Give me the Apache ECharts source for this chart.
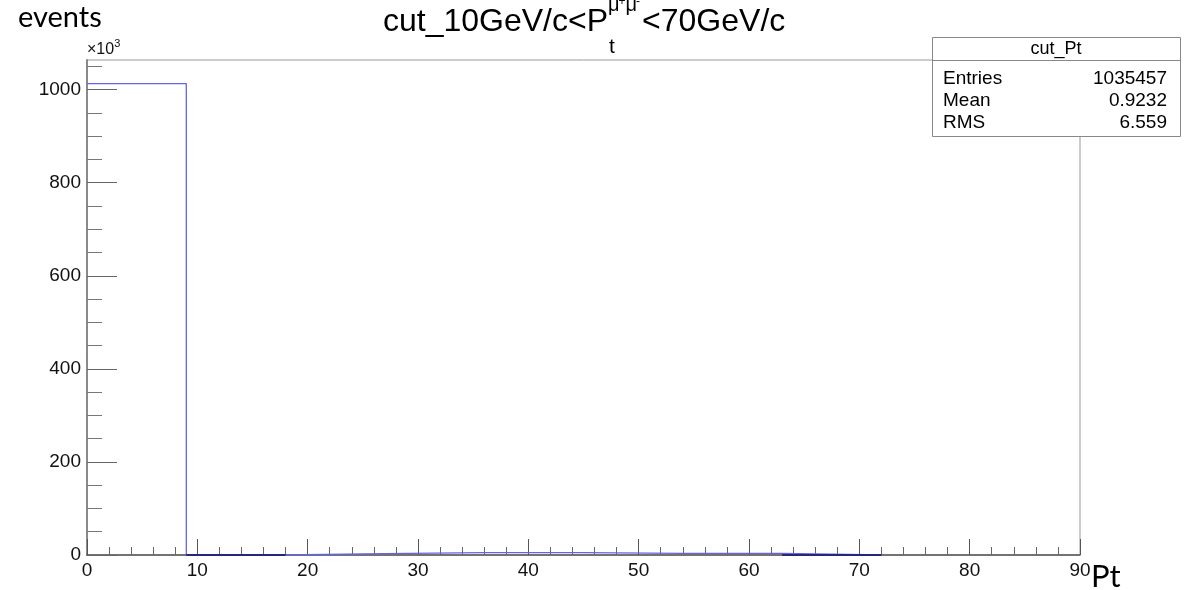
<!DOCTYPE html>
<html><head><meta charset="utf-8">
<script src="https://cdn.jsdelivr.net/npm/echarts@6/dist/echarts.min.js"></script>
<style>html,body{margin:0;padding:0;background:#fff}#c{width:1197px;height:590px}</style>
</head><body><div id="c"></div>
<script>
// ---- data (counts in units of 10^3 events) ----
const binEdges = [0, 9, 18, 27, 36, 45, 54, 63, 72];
const binCounts = [1013, 0, 3.0, 5.0, 5.0, 3.5, 3.5, 0];
const yMax = 1063.6;
const xMin = 0, xMax = 90;
const yMajorTicks = [0, 200, 400, 600, 800, 1000];
const yMinorTicks = [50, 100, 150, 250, 300, 350, 450, 500, 550, 650, 700, 750, 850, 900, 950, 1050];
const xMajorTicks = [0, 10, 20, 30, 40, 50, 60, 70, 80, 90];
const xMinorTicks = [2,4,6,8,12,14,16,18,22,24,26,28,32,34,36,38,42,44,46,48,52,54,56,58,62,64,66,68,72,74,76,78,82,84,86,88];
const statsTitle = 'cut_Pt';
const statsRows = [['Entries', '1035457'], ['Mean', '0.9232'], ['RMS', '6.559']];
const titleMain1 = 'cut_10GeV/c<P';
const titleSub = 't';
const titleSup = ['μ', '+', 'μ', '-'];
const titleMain2 = '<70GeV/c';
const yTitle = 'events';
const xTitle = 'Pt';

// step-line points: each bin's left edge carries the bin content; final edge closes it
const histPoints = binEdges.map((e, i) => [e, i < binCounts.length ? binCounts[i] : 0]);
// empty bins: the histogram outline lies on the axis (drawn darker, as in the original)
const emptyPoints = [];
binCounts.forEach((c, i) => {
  if (c === 0) { emptyPoints.push([binEdges[i], c], [binEdges[i + 1], c], [binEdges[i + 1], '-']); }
});

const FONT = 'Liberation Sans';
const ctx = document.createElement('canvas').getContext('2d');
function tw(t, size) { ctx.font = size + 'px "' + FONT + '"'; return ctx.measureText(t).width; }
function mid(base, size) { return base - 0.35 * size; }

const tX0 = 383, tBase = 33, tSize = 32, supSize = 20, supSmall = 12, subSize = 21;
const w1 = tw(titleMain1, tSize);
const subX = tX0 + w1;
const muW = tw('μ', supSize), plusW = tw('+', supSmall), minusW = tw('-', supSmall);
const supW = 2 * muW + plusW + minusW;
const part2X = subX + supW;

const chart = echarts.init(document.getElementById('c'), null, {renderer: 'canvas'});
const axisTextColor = '#111';

function T(x, y, text, font, extra) {
  return {type: 'text', x: x, y: y, z: 102, style: Object.assign({text: text, font: font, fill: '#000', verticalAlign: 'middle', align: 'left'}, extra || {})};
}
const fS = s => s + 'px "' + FONT + '"';

const graphic = [
  T(18, mid(28, 29), yTitle, '29px Lato'),
  T(tX0, mid(tBase, tSize), titleMain1, fS(tSize)),
  T(subX + 1, mid(55, subSize), titleSub, fS(subSize)),
  T(subX, mid(12, supSize), titleSup[0], fS(supSize)),
  T(subX + muW - 1, mid(6, supSmall), titleSup[1], fS(supSmall)),
  T(subX + muW + plusW - 1, mid(12, supSize), titleSup[2], fS(supSize)),
  T(subX + 2 * muW + plusW - 2, mid(6, supSmall), titleSup[3], fS(supSmall)),
  T(part2X, mid(tBase, tSize), titleMain2, fS(tSize)),
  T(87, mid(55, 16), '×10', fS(16), {fill: '#111'}),
  T(87 + tw('×10', 16), mid(48, 11), '3', fS(11), {fill: '#111'}),
  T(1091, mid(588, 31), xTitle, '31px Lato'),
  // stats box
  {type: 'rect', z: 100, shape: {x: 932.5, y: 37.5, width: 248, height: 99}, style: {fill: '#fff', stroke: '#888', lineWidth: 1}},
  {type: 'line', z: 101, shape: {x1: 932.5, y1: 60.5, x2: 1180.5, y2: 60.5}, style: {stroke: '#888', lineWidth: 1}},
  T(1056, mid(55, 18), statsTitle, fS(18), {align: 'center'})
];
statsRows.forEach((r, i) => {
  const base = [85, 107.5, 129][i];
  graphic.push(T(943, mid(base, 19), r[0], fS(19)));
  graphic.push(T(1167, mid(base, 19), r[1], fS(19), {align: 'right'}));
});

chart.setOption({
  animation: false,
  backgroundColor: '#fff',
  grid: {left: 87, right: 117, top: 60, bottom: 35, show: true, borderColor: '#999', borderWidth: 1, backgroundColor: 'transparent'},
  xAxis: [
    {type: 'value', min: xMin, max: xMax, position: 'bottom',
     axisLine: {show: true, onZero: false, lineStyle: {color: '#555', width: 1.5}},
     axisTick: {show: true, inside: true, length: 16, customValues: xMajorTicks, lineStyle: {color: '#555', width: 1}},
     axisLabel: {show: true, customValues: xMajorTicks, margin: 6, fontFamily: FONT, fontSize: 19, color: axisTextColor, formatter: v => String(v)},
     splitLine: {show: false}},
    {type: 'value', min: xMin, max: xMax, position: 'bottom',
     axisLine: {show: false},
     axisTick: {show: true, inside: true, length: 8, customValues: xMinorTicks, lineStyle: {color: '#666', width: 1}},
     axisLabel: {show: false}, splitLine: {show: false}}
  ],
  yAxis: [
    {type: 'value', min: 0, max: yMax, position: 'left',
     axisLine: {show: true, onZero: false, lineStyle: {color: '#8a8a8a', width: 2}},
     axisTick: {show: true, inside: true, length: 30, customValues: yMajorTicks, lineStyle: {color: '#666', width: 1}},
     axisLabel: {show: true, customValues: yMajorTicks, margin: 6, fontFamily: FONT, fontSize: 19, color: axisTextColor, formatter: v => String(v)},
     splitLine: {show: false}},
    {type: 'value', min: 0, max: yMax, position: 'left',
     axisLine: {show: false},
     axisTick: {show: true, inside: true, length: 15, customValues: yMinorTicks, lineStyle: {color: '#777', width: 1}},
     axisLabel: {show: false}, splitLine: {show: false}}
  ],
  series: [
    {type: 'line', xAxisIndex: 0, yAxisIndex: 0, step: 'end', data: histPoints,
     symbol: 'none', lineStyle: {color: '#6464e4', width: 1.3}, z: 5},
    {type: 'line', xAxisIndex: 0, yAxisIndex: 0, data: emptyPoints, connectNulls: false,
     symbol: 'none', lineStyle: {color: '#26267a', width: 2}, z: 6}
  ],
  graphic: graphic
});
</script>
</body></html>
